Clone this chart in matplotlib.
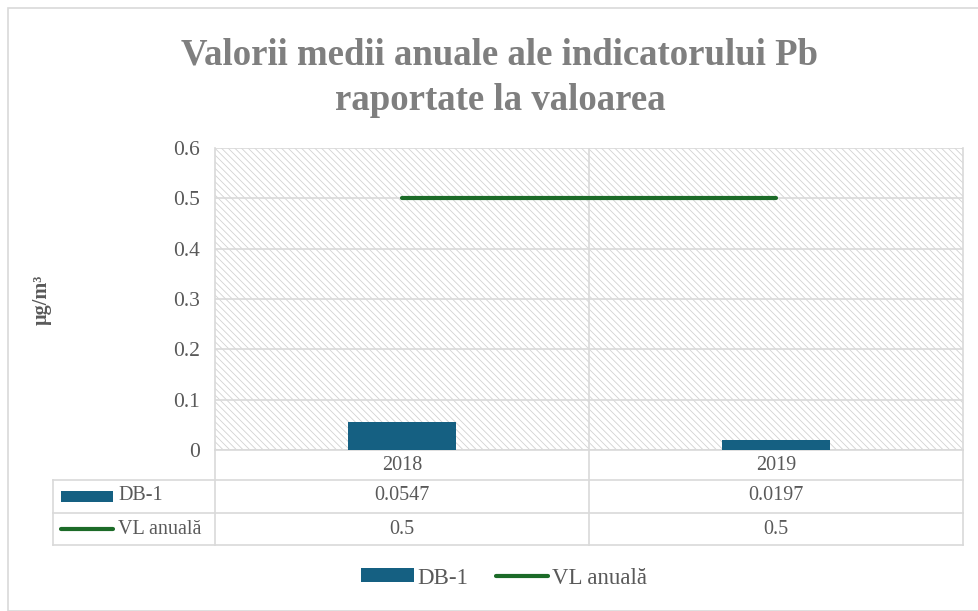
import matplotlib.pyplot as plt
from matplotlib.patches import Rectangle
from matplotlib.lines import Line2D
from matplotlib.transforms import blended_transform_factory

plt.rcParams['font.family'] = ['Liberation Serif', 'DejaVu Serif']
plt.rcParams['hatch.linewidth'] = 0.6

ani = ['2018', '2019']
db1 = [0.0547, 0.0197]
vl_anuala = [0.5, 0.5]
db1_text = ['0.0547', '0.0197']
vl_text = ['0.5', '0.5']
yticks = [0, 0.1, 0.2, 0.3, 0.4, 0.5, 0.6]
ytick_labels = ['0', '0.1', '0.2', '0.3', '0.4', '0.5', '0.6']

culoare_bar = '#156082'
culoare_vl = '#1c6b28'
gri = '#d9d9d9'
text_gri = '#595959'

W, H = 979, 611
fig = plt.figure(figsize=(W / 100, H / 100), dpi=100)


def fx(x):
    return x / W


def fy(y):
    return 1 - y / H


# chenar exterior
fig.add_artist(Rectangle((fx(8), fy(611)), fx(979) - fx(8), fy(8) - fy(611),
                         transform=fig.transFigure, fill=False,
                         edgecolor=gri, lw=1.2))

ax = fig.add_axes([fx(215), fy(450), fx(963) - fx(215), fy(148) - fy(450)])
x = list(range(len(ani)))

ax.add_patch(Rectangle((0, 0), 1, 1, transform=ax.transAxes, facecolor='white',
                       edgecolor='#d2d2d2', hatch='\\' * 5, lw=0, zorder=0))
bare = ax.bar(x, db1, width=0.29, color=culoare_bar, zorder=3, label='DB-1')
linie, = ax.plot(x, vl_anuala, color=culoare_vl, lw=3, solid_capstyle='round',
                 zorder=4, label='VL anuală')

ax.set_xlim(-0.5, len(ani) - 0.5)
ax.set_ylim(0, 0.6)
ax.set_yticks(yticks)
ax.set_yticklabels(ytick_labels)
ax.set_xticks([])
ax.tick_params(axis='y', length=0, pad=11, labelsize=15.5, labelcolor=text_gri)
ax.yaxis.grid(True, color=gri, lw=1.2, zorder=1)
ax.set_axisbelow(True)
for i in range(1, len(ani)):
    ax.axvline(i - 0.5, color=gri, lw=1.2, zorder=1)
ax.spines['top'].set_visible(False)
for s in ['left', 'right', 'bottom']:
    ax.spines[s].set_color(gri)
    ax.spines[s].set_linewidth(1.2)

fig.text(fx(42), fy(300), 'µg/m³', rotation=90, fontsize=14.5, fontweight='bold',
         color=text_gri, ha='center', va='center')

# titlu
fig.text(fx(500), fy(55), 'Valorii medii anuale ale indicatorului Pb',
         fontsize=26.5, fontweight='bold', color='#7f7f7f', ha='center', va='center')
fig.text(fx(500), fy(100), 'raportate la valoarea',
         fontsize=26.5, fontweight='bold', color='#7f7f7f', ha='center', va='center')

# tabel de date
tf = fig.transFigure
for yy in [480, 513, 545]:
    fig.add_artist(Line2D([fx(53), fx(963)], [fy(yy), fy(yy)], transform=tf,
                          color=gri, lw=1.2))
fig.add_artist(Line2D([fx(53), fx(53)], [fy(480), fy(545)], transform=tf,
                      color=gri, lw=1.2))
for xx in [215, 589, 963]:
    fig.add_artist(Line2D([fx(xx), fx(xx)], [fy(450), fy(545)], transform=tf,
                          color=gri, lw=1.2))

bt = blended_transform_factory(ax.transData, fig.transFigure)
for i in x:
    fig.text(i, fy(465), ani[i], transform=bt, ha='center', va='center',
             fontsize=14.5, color=text_gri)
    fig.text(i, fy(496), db1_text[i], transform=bt, ha='center', va='center',
             fontsize=14.5, color=text_gri)
    fig.text(i, fy(529), vl_text[i], transform=bt, ha='center', va='center',
             fontsize=14.5, color=text_gri)

fig.add_artist(Rectangle((fx(61), fy(502)), fx(113) - fx(61), fy(491) - fy(502),
                         transform=tf, facecolor=culoare_bar, lw=0))
fig.add_artist(Line2D([fx(61), fx(113)], [fy(529), fy(529)], transform=tf,
                      color=culoare_vl, lw=3, solid_capstyle='round'))
fig.text(fx(118), fy(496), 'DB-1', ha='left', va='center', fontsize=14.5, color=text_gri)
fig.text(fx(118), fy(529), 'VL anuală', ha='left', va='center', fontsize=14.5, color=text_gri)

# legenda
fig.legend([bare, linie], ['DB-1', 'VL anuală'], loc='center',
           bbox_to_anchor=(fx(504), fy(578)), ncol=2,
           frameon=False, fontsize=16.5, handlelength=2.3, handleheight=0.55,
           handletextpad=0.15, columnspacing=1.2, labelcolor=text_gri)

fig.savefig('out.png', dpi=100)
